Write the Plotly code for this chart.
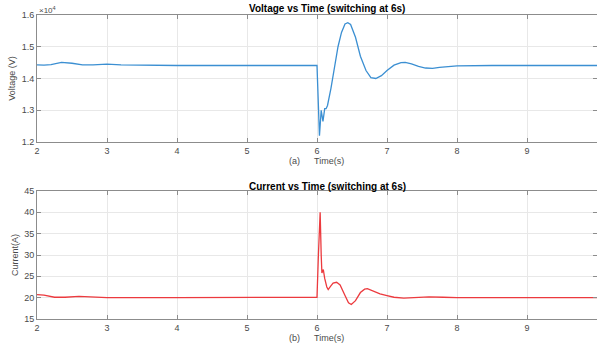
import plotly.graph_objects as go
from plotly.subplots import make_subplots

# Voltage data (V)
volt_t = [2.0, 2.1, 2.2, 2.35, 2.5, 2.65, 2.8, 3.0, 3.2, 3.5, 4.0, 5.0, 6.0,
          6.035, 6.06, 6.085, 6.11, 6.13, 6.15, 6.2, 6.25, 6.3, 6.35, 6.4, 6.44,
          6.48, 6.55, 6.62, 6.7, 6.77, 6.84, 6.92, 7.0, 7.1, 7.2, 7.26, 7.35,
          7.45, 7.55, 7.65, 7.75, 7.9, 8.0, 8.5, 9.0, 10.0]
volt_v = [14430, 14420, 14440, 14510, 14480, 14430, 14430, 14450, 14430, 14415,
          14410, 14410, 14410, 12200, 13000, 12650, 13050, 13050, 13150, 13700,
          14400, 15000, 15450, 15720, 15760, 15700, 15300, 14700, 14250, 14030,
          14000, 14090, 14250, 14420, 14500, 14510, 14460, 14380, 14330, 14320,
          14350, 14390, 14400, 14410, 14410, 14410]

# Current data (A)
curr_t = [2.0, 2.1, 2.25, 2.4, 2.6, 2.8, 3.0, 4.0, 5.0, 6.0, 6.02, 6.045, 6.06,
          6.07, 6.09, 6.11, 6.14, 6.16, 6.19, 6.23, 6.28, 6.33, 6.4, 6.45, 6.49,
          6.55, 6.62, 6.68, 6.72, 6.8, 6.9, 7.0, 7.1, 7.24, 7.4, 7.6, 7.8, 8.0,
          9.0, 10.0]
curr_i = [20.7, 20.6, 20.1, 20.1, 20.3, 20.1, 20.0, 20.0, 20.0, 20.1, 30.0, 40.0,
          30.0, 25.8, 26.6, 24.5, 22.5, 21.9, 22.6, 23.4, 23.6, 23.0, 20.5, 18.8,
          18.4, 19.3, 21.2, 22.0, 22.1, 21.6, 20.9, 20.5, 20.1, 19.9, 20.0, 20.2,
          20.1, 20.0, 20.0, 20.0]

x_ticks = [2, 3, 4, 5, 6, 7, 8, 9, 10]
v_ticks = [12000, 13000, 14000, 15000, 16000]
v_tick_text = ["1.2", "1.3", "1.4", "1.5", "1.6"]
i_ticks = [15, 20, 25, 30, 35, 40, 45]

FONT = "Liberation Sans, Arial, sans-serif"
W, H = 597, 345
L, R, T, B = 37, 0, 15, 26
ph = H - T - B

def fy(px):
    return 1 - (px - T) / ph

fig = make_subplots(rows=2, cols=1)
fig.add_trace(go.Scatter(x=volt_t, y=volt_v, mode="lines",
                         line=dict(color="#3b8fd2", width=1.3), showlegend=False), row=1, col=1)
fig.add_trace(go.Scatter(x=curr_t, y=curr_i, mode="lines",
                         line=dict(color="#ec3a3e", width=1.3), showlegend=False), row=2, col=1)

axis_common = dict(showline=True, mirror="ticks", linecolor="#8c8c8c", linewidth=1,
                   ticks="inside", ticklen=4, tickcolor="#8c8c8c", automargin=False,
                   showgrid=True, gridcolor="#e8e8e8", gridwidth=1, zeroline=False,
                   tickfont=dict(family=FONT, size=9, color="#4a4a4a"))

fig.update_xaxes(axis_common)
fig.update_xaxes(range=[2, 10], tickvals=x_ticks, ticktext=[str(v) for v in x_ticks],
                 domain=[0, 1])
fig.update_yaxes(axis_common)
fig.update_yaxes(range=[12000, 16000], tickvals=v_ticks, ticktext=v_tick_text,
                 domain=[fy(142), fy(15)], row=1, col=1,
                 title=dict(text="Voltage (V)", font=dict(family=FONT, size=9, color="#4a4a4a"), standoff=4))
fig.update_yaxes(range=[15, 45], tickvals=i_ticks, domain=[fy(319), fy(191)], row=2, col=1,
                 title=dict(text="Current(A)", font=dict(family=FONT, size=9, color="#4a4a4a"), standoff=4))

anns = [
    dict(text="<b>Voltage vs Time (switching at 6s)</b>", x=327, y=8),
    dict(text="<b>Current vs Time (switching at 6s)</b>", x=327, y=186),
    dict(text="(a)", x=294, y=161),
    dict(text="Time(s)", x=329, y=161),
    dict(text="(b)", x=294, y=338),
    dict(text="Time(s)", x=329, y=338),
]
for a in anns:
    bold = a["text"].startswith("<b>")
    fig.add_annotation(text=a["text"], xref="paper", yref="paper",
                       x=(a["x"] - L) / (W - L - R), y=fy(a["y"]),
                       xanchor="center", yanchor="middle", showarrow=False,
                       font=dict(family=FONT, size=10 if bold else 9,
                                 color="#000000" if bold else "#4a4a4a"))
fig.add_annotation(text="×10<sup>4</sup>", xref="paper", yref="paper",
                   x=0, y=fy(10), xanchor="left", yanchor="middle", showarrow=False,
                   font=dict(family=FONT, size=8, color="#4a4a4a"))

fig.update_layout(width=W, height=H, margin=dict(l=L, r=R, t=T, b=B),
                  paper_bgcolor="white", plot_bgcolor="white",
                  font=dict(family=FONT))
fig.write_html("out.html", config={"displayModeBar": False},
               post_script="document.body.style.margin='0px';")
